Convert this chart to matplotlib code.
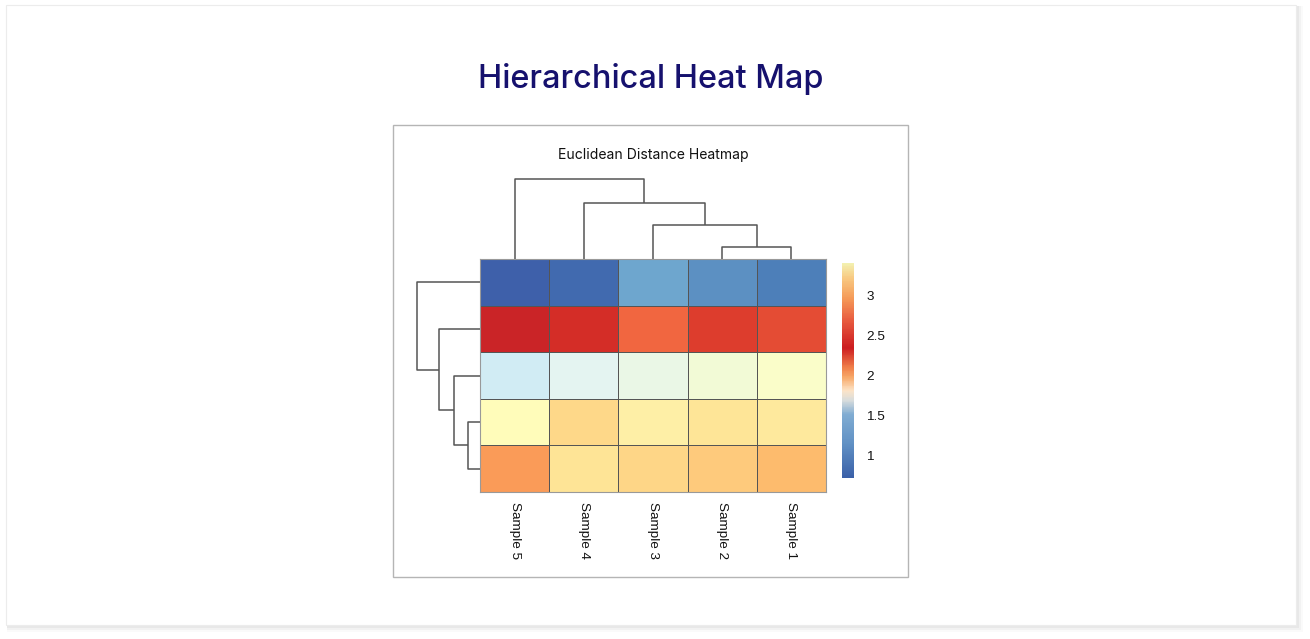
"""Hierarchical heat map: euclidean distance matrix with row/column dendrograms."""
import numpy as np
import matplotlib
matplotlib.use("Agg")
import matplotlib.pyplot as plt
from matplotlib.colors import LinearSegmentedColormap, Normalize
from matplotlib.patches import Rectangle
from matplotlib.cm import ScalarMappable

W, H = 1310, 639

# column order as displayed (left -> right)
samples = ["Sample 5", "Sample 4", "Sample 3", "Sample 2", "Sample 1"]
# heat values, rows top -> bottom
values = np.array([
    [0.88, 0.93, 1.21, 1.11, 1.02],
    [3.19, 3.14, 2.89, 3.07, 3.00],
    [1.71, 1.81, 1.87, 1.94, 2.00],
    [2.08, 2.36, 2.19, 2.28, 2.25],
    [2.67, 2.29, 2.37, 2.43, 2.52],
])
# linkage-style merges: (left id, right id, height); ids >= n are earlier merges
col_merges = [(3, 4, 0.75), (2, 5, 2.1), (1, 6, 3.5), (0, 7, 5.0)]
row_merges = [(3, 4, 0.8), (2, 5, 1.7), (1, 6, 2.7), (0, 7, 4.1)]

# colour key as drawn in the legend bar (value, colour)
key_stops = [(0.72, "#3a60a8"), (1.14, "#6090c4"), (1.51, "#80acd2"),
             (1.69, "#d8dcdc"), (1.81, "#fce4c8"), (1.98, "#f7a868"),
             (2.10, "#f0804a"), (2.35, "#cc1c20"), (2.70, "#e85c40"),
             (2.97, "#f59a58"), (3.22, "#f8c880"), (3.41, "#f3f0b0")]
key_ticks = [1, 1.5, 2, 2.5, 3]


def px(x0, y0, x1, y1):
    """pixel box (top-left origin) -> figure fraction rect"""
    return [x0 / W, 1 - y1 / H, (x1 - x0) / W, (y1 - y0) / H]


def draw_dendro(ax, merges, n, vertical=True):
    pos = {i: i + 0.5 for i in range(n)}
    hgt = {i: 0.0 for i in range(n)}
    for k, (a, b, h) in enumerate(merges):
        xs = [pos[a], pos[a], pos[b], pos[b]]
        ys = [hgt[a], h, h, hgt[b]]
        if vertical:
            ax.plot(xs, ys, color="#555555", lw=1.1, solid_capstyle="butt")
        else:
            ax.plot(ys, xs, color="#555555", lw=1.1, solid_capstyle="butt")
        pos[n + k] = (pos[a] + pos[b]) / 2
        hgt[n + k] = h
    return max(h for _, _, h in merges)


fig = plt.figure(figsize=(W / 100, H / 100), dpi=100)
fig.patch.set_facecolor("white")

# card with soft shadow
for i, a in enumerate([0.05, 0.04, 0.03, 0.02]):
    fig.patches.append(Rectangle((7 / W, 1 - (626 + i * 2) / H), (1290 + i * 2) / W,
                                 (620 + i * 2) / H, transform=fig.transFigure,
                                 facecolor="black", alpha=a, edgecolor="none", zorder=-5))
fig.patches.append(Rectangle((6 / W, 1 - 625 / H), 1290 / W, 620 / H, transform=fig.transFigure,
                             facecolor="white", edgecolor="#ececec", lw=0.8, zorder=-4))
# inner panel
fig.patches.append(Rectangle((393 / W, 1 - 577 / H), 515 / W, 452 / H, transform=fig.transFigure,
                             facecolor="white", edgecolor="#b5b5b5", lw=1.0, zorder=-3))

fig.text(651 / W, 1 - 79 / H, "Hierarchical Heat Map", ha="center", va="center",
         fontsize=23.4, color="#16116e", family="Inter", fontweight="medium")
fig.text(653 / W, 1 - 155 / H, "Euclidean Distance Heatmap", ha="center", va="center",
         fontsize=10.1, color="#111111", family="Inter")

nr, nc = values.shape

# heat map
ax = fig.add_axes(px(480, 259, 826, 492))
ax.pcolormesh(np.arange(nc + 1), np.arange(nr + 1), values, cmap="RdYlBu_r",
              vmin=0.7, vmax=3.4, edgecolors="#555555", linewidth=0.6)
ax.set_xlim(0, nc)
ax.set_ylim(nr, 0)
ax.set_xticks(np.arange(nc) + 0.5)
ax.set_xticklabels(samples, rotation=270, fontsize=9.7, family="Liberation Sans", color="#111111")
ax.set_yticks([])
ax.tick_params(axis="x", length=0, pad=7)
for s in ax.spines.values():
    s.set_color("#999999")
    s.set_linewidth(0.8)

# column dendrogram
axc = fig.add_axes(px(480, 179, 826, 259))
hmax = draw_dendro(axc, col_merges, nc, vertical=True)
axc.set_xlim(0, nc)
axc.set_ylim(0, hmax)
axc.axis("off")
for ln in axc.lines:
    ln.set_clip_on(False)

# row dendrogram
axr = fig.add_axes(px(417, 259, 480, 492))
hmax = draw_dendro(axr, row_merges, nr, vertical=False)
axr.set_ylim(nr, 0)
axr.set_xlim(hmax, 0)
axr.axis("off")
for ln in axr.lines:
    ln.set_clip_on(False)

# colour key
vmin, vmax = key_stops[0][0], key_stops[-1][0]
key_cmap = LinearSegmentedColormap.from_list(
    "key", [((v - vmin) / (vmax - vmin), c) for v, c in key_stops])
axk = fig.add_axes(px(842, 263, 854, 478))
cb = fig.colorbar(ScalarMappable(norm=Normalize(vmin, vmax), cmap=key_cmap), cax=axk)
cb.outline.set_visible(False)
cb.set_ticks(key_ticks)
cb.set_ticklabels(["1", "1.5", "2", "2.5", "3"])
axk.tick_params(length=0, pad=9, labelsize=9.7, labelcolor="#111111")
for t in axk.get_yticklabels():
    t.set_family("Liberation Sans")

fig.savefig("out.png", dpi=100)
